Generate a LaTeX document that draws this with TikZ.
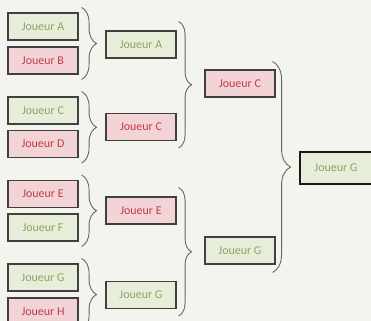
\documentclass[tikz,border=0pt]{standalone}
\usepackage{fontspec}
\setmainfont{Carlito}
\usepackage{tikz}
\usetikzlibrary{decorations.pathreplacing}
\definecolor{bgcol}{HTML}{F4F4EF}
\definecolor{winfill}{HTML}{E6EED9}
\definecolor{wintext}{HTML}{8AA565}
\definecolor{losefill}{HTML}{F2D4D6}
\definecolor{losetext}{HTML}{C43A4C}
\tikzstyle{player} = [draw=black!75, line width=1.1bp, rectangle,
    minimum width=70bp, minimum height=27bp, inner sep=0pt,
    font=\fontsize{12}{14}\selectfont]
\tikzstyle{winner} = [player, fill=winfill, text=wintext]
\tikzstyle{loser} = [player, fill=losefill, text=losetext]
\tikzstyle{champion} = [winner, line width=1.5bp, draw=black!90,
    minimum width=72bp, minimum height=32bp]
\tikzstyle{bracket} = [draw=black!60, line width=0.9bp,
    decorate, decoration={brace, amplitude=#1}]

\begin{document}
\begin{tikzpicture}[x=1bp, y=1bp]
                \useasboundingbox[fill=bgcol] (0,0) rectangle (371,-321);
                % first round
                \node [winner] (r1a) at (43,-26.5) {Joueur A};
                \node [loser]  (r1b) at (43,-60.5) {Joueur B};
                \node [winner] (r1c) at (43,-110.5) {Joueur C};
                \node [loser]  (r1d) at (43,-144) {Joueur D};
                \node [loser]  (r1e) at (43,-194) {Joueur E};
                \node [winner] (r1f) at (43,-227.5) {Joueur F};
                \node [winner] (r1g) at (43,-277.5) {Joueur G};
                \node [loser]  (r1h) at (43,-311.5) {Joueur H};
                % second round
                \node [winner] (r2a) at (141,-44.5) {Joueur A};
                \node [loser]  (r2c) at (141,-127) {Joueur C};
                \node [loser]  (r2e) at (141,-210.5) {Joueur E};
                \node [winner] (r2g) at (141,-295) {Joueur G};
                % final
                \node [loser]  (r3c) at (240,-83.5) {Joueur C};
                \node [winner] (r3g) at (240,-250.5) {Joueur G};
                \node [champion] (win) at (336,-168) {Joueur G};
                \foreach \up/\down in {r1a/r1b, r1c/r1d, r1e/r1f, r1g/r1h}
                    \draw [bracket=15bp] ([xshift=3bp,yshift=5bp]\up.north east) -- ([xshift=3bp,yshift=-5bp]\down.south east);
                \foreach \up/\down in {r2a/r2c, r2e/r2g}
                    \draw [bracket=13bp] ([xshift=2bp,yshift=9bp]\up.north east) -- ([xshift=2bp,yshift=-7bp]\down.south east);
                \draw [bracket=18bp] ([xshift=-3bp,yshift=8bp]r3c.north east) -- ([xshift=-3bp,yshift=-8bp]r3g.south east);
            \end{tikzpicture}
\end{document}
